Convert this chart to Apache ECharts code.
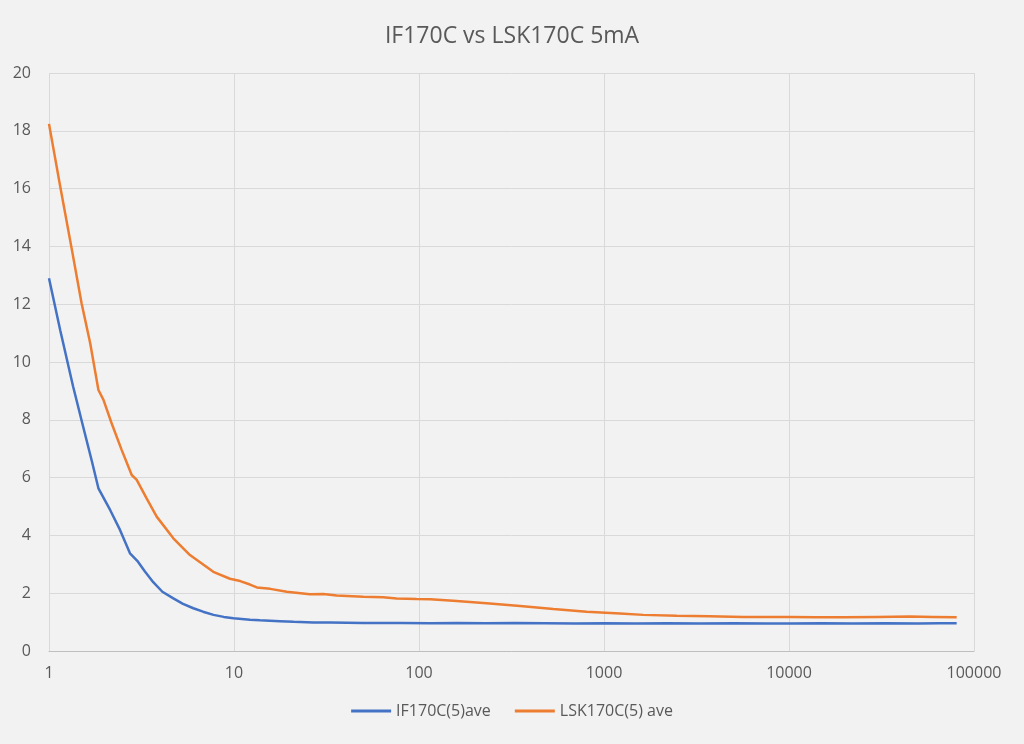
<!DOCTYPE html>
<html>
<head>
<meta charset="utf-8">
<script src="https://cdn.jsdelivr.net/npm/echarts@6/dist/echarts.min.js"></script>
<style>
	html, body { margin: 0; padding: 0; background: #f2f2f2; }
	#chart { width: 1024px; height: 744px; }
</style>
</head>
<body>
<div id="chart"></div>
<script>
	var chartTitle = 'IF170C vs LSK170C 5mA';
	var seriesNames = ['IF170C(5)ave', 'LSK170C(5) ave'];
	var xTicks = [1, 10, 100, 1000, 10000, 100000];

	// IF170C(5)ave  [x, value]
	var ifX = [1, 1.15, 1.35, 1.53, 1.7, 1.85, 2.14, 2.42, 2.74, 3.0, 3.3, 3.66, 4.1, 4.7, 5.3, 6.03, 6.8, 7.75, 8.8, 9.94, 12.2, 13.8, 17.7, 21, 26.8, 33, 40.7, 50, 61.6, 80, 115, 160, 230, 330, 480, 700, 1000, 1500, 2200, 3300, 5000, 7500, 10000, 15000, 22000, 33000, 50000, 65000, 80600];
	var ifY = [12.9, 11.1, 9.15, 7.76, 6.6, 5.63, 4.88, 4.19, 3.38, 3.12, 2.75, 2.38, 2.05, 1.82, 1.63, 1.48, 1.36, 1.25, 1.18, 1.13, 1.08, 1.06, 1.03, 1.01, 0.99, 0.99, 0.98, 0.97, 0.97, 0.97, 0.96, 0.97, 0.96, 0.97, 0.96, 0.95, 0.96, 0.95, 0.96, 0.95, 0.96, 0.95, 0.95, 0.96, 0.95, 0.96, 0.95, 0.96, 0.96];

	// LSK170C(5) ave  [x, value]
	var lskX = [1, 1.15, 1.33, 1.5, 1.67, 1.85, 1.97, 2.18, 2.47, 2.8, 2.98, 3.37, 3.82, 4.7, 5.78, 7.73, 9.51, 10.8, 12.2, 13.3, 15.7, 19.3, 25.7, 30.4, 35.9, 50, 64, 75.7, 97, 115, 153, 232, 352, 532, 806, 1220, 1630, 2470, 3700, 5660, 10100, 14000, 19700, 30000, 45100, 60000, 80600];
	var lskY = [18.24, 16.07, 13.88, 12.03, 10.65, 9.03, 8.69, 7.88, 6.96, 6.09, 5.92, 5.28, 4.65, 3.9, 3.32, 2.74, 2.5, 2.42, 2.3, 2.2, 2.15, 2.05, 1.96, 1.97, 1.92, 1.88, 1.86, 1.82, 1.8, 1.79, 1.74, 1.65, 1.56, 1.45, 1.36, 1.3, 1.25, 1.22, 1.2, 1.18, 1.18, 1.17, 1.17, 1.18, 1.19, 1.18, 1.17];

	function pairs(xs, ys) {
		var out = [];
		for (var i = 0; i < xs.length; i++) {
			out.push([xs[i], ys[i]]);
		}
		return out;
	}

	var textColor = '#595959';
	var chart = echarts.init(document.getElementById('chart'));
	var option = {
		backgroundColor: '#f2f2f2',
		textStyle: { fontFamily: '"Open Sans", sans-serif' },
		title: {
			text: chartTitle,
			left: 'center',
			top: 20,
			textStyle: {
				color: textColor,
				fontSize: 23,
				fontWeight: 'normal'
			}
		},
		legend: {
			bottom: 20,
			left: 'center',
			itemWidth: 40,
			itemHeight: 3,
			itemGap: 24,
			icon: 'rect',
			textStyle: { color: textColor, fontSize: 16 },
			data: seriesNames
		},
		grid: {
			left: 49,
			right: 50,
			top: 73,
			bottom: 93
		},
		xAxis: {
			type: 'log',
			logBase: 10,
			min: xTicks[0],
			max: xTicks[xTicks.length - 1],
			axisLine: { lineStyle: { color: '#bfbfbf', width: 1 } },
			axisTick: { show: false },
			axisLabel: {
				color: textColor,
				fontSize: 16,
				margin: 14,
				formatter: function (v) { return String(Math.round(v)); }
			},
			splitLine: { show: true, lineStyle: { color: '#d9d9d9', width: 1 } }
		},
		yAxis: {
			type: 'value',
			min: 0,
			max: 20,
			interval: 2,
			axisLine: { show: false },
			axisTick: { show: false },
			axisLabel: { color: textColor, fontSize: 16, margin: 18 },
			splitLine: { lineStyle: { color: '#d9d9d9', width: 1 } }
		},
		series: [{
			name: seriesNames[0],
			type: 'line',
			showSymbol: false,
			color: '#4472c4',
			lineStyle: { width: 2.5 },
			data: pairs(ifX, ifY)
		}, {
			name: seriesNames[1],
			type: 'line',
			showSymbol: false,
			color: '#ed7d31',
			lineStyle: { width: 2.5 },
			data: pairs(lskX, lskY)
		}]
	};
	chart.setOption(option);
</script>
</body>
</html>
